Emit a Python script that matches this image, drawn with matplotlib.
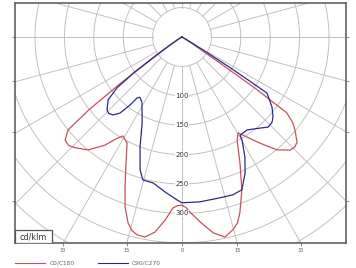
import numpy as np
import matplotlib
matplotlib.use("Agg")
import matplotlib.pyplot as plt
from matplotlib.patches import Rectangle

# ---- data: gamma (deg from nadir) and intensity (cd/klm) ----
c0_gamma = [0, 1.3, 2.6, 5.6, 9.0, 12.1, 14.8, 16.6, 18.2, 21.4, 24.7, 28.1, 30.3, 33, 36.3, 40.1, 43.7, 45.7, 47.6, 50.5, 52.3, 54.1, 55, 55.5, 57, 60, 90]
c0_int = [286, 290, 298, 316, 337, 348, 339, 330, 315, 279, 236, 199, 189, 203, 224, 251, 266, 268, 265, 249, 238, 220, 150, 80, 20, 5, 0]

c180_gamma = [0, 1.5, 3.0, 5.3, 7.9, 10.5, 12.8, 14.5, 16.2, 18.5, 20.8, 24.0, 27.4, 30.8, 32.4, 35.5, 39.8, 44.1, 46.3, 48.6, 50.8, 52, 53, 54, 56, 60, 90]
c180_int = [286, 287, 291, 313, 335, 346, 345, 340, 329, 305, 273, 234, 203, 196, 203, 226, 250, 262, 267, 265, 250, 200, 130, 60, 20, 5, 0]

c90_gamma = [0, 6.2, 13.3, 17.9, 21.4, 24.9, 27.7, 30.2, 30.6, 35, 40.6, 43.7, 46.5, 48.7, 52.1, 56.6, 57.5, 58.5, 60, 90]
c90_int = [282, 282, 281, 282, 279, 255, 230, 203, 194, 193, 204, 212, 211, 206, 194, 173, 100, 40, 10, 0]

c270_gamma = [0, 1.8, 6.3, 11.2, 15.3, 17.5, 20.9, 24.9, 31.6, 35, 36.4, 37.4, 39.2, 41.5, 43.8, 45.8, 49.6, 52, 53.5, 55, 57, 60, 90]
c270_int = [282, 277, 265, 253, 252, 237, 200, 161, 130, 125, 129, 146, 167, 177, 180, 178, 165, 140, 100, 50, 20, 5, 0]

ring_values = [100, 150, 200, 250, 300]
bottom_labels = ["30", "15", "0", "15", "30"]
bottom_angles = [-30, -15, 0, 15, 30]
series_names = ["C0/C180", "C90/C270"]
unit_label = "cd/klm"


def to_xy(g_left, i_left, g_right, i_right):
    gl = np.radians(np.array(g_left, float))
    il = np.array(i_left, float)
    gr = np.radians(np.array(g_right, float))
    ir = np.array(i_right, float)
    xl = -il * np.sin(gl)
    yl = -il * np.cos(gl)
    xr = ir * np.sin(gr)
    yr = -ir * np.cos(gr)
    x = np.concatenate([xl[::-1], xr])
    y = np.concatenate([yl[::-1], yr])
    return x, y


W, H = 356, 268
fig = plt.figure(figsize=(W / 100, H / 100), dpi=100)
L, R, T, B = 15, 346, 3, 243
ax = fig.add_axes([L / W, 1 - B / H, (R - L) / W, (B - T) / H])
cx, cy, s = 182, 37, 0.588
ax.set_xlim((L - cx) / s, (R - cx) / s)
ax.set_ylim(-(B - cy) / s, (cy - T) / s)

grid_c = "#bdbdbd"
t = np.linspace(0, 2 * np.pi, 400)
for r in range(50, 700, 50):
    ax.plot(r * np.cos(t), r * np.sin(t), color=grid_c, lw=0.65, zorder=1)
for a in range(0, 360, 15):
    ar = np.radians(a)
    ax.plot([50 * np.cos(ar), 800 * np.cos(ar)], [50 * np.sin(ar), 800 * np.sin(ar)],
            color=grid_c, lw=0.65, zorder=1)

red = "#c8505e"
blue = "#2b2b86"
xr_, yr_ = to_xy(c180_gamma, c180_int, c0_gamma, c0_int)
xb_, yb_ = to_xy(c270_gamma, c270_int, c90_gamma, c90_int)
ax.plot(xr_, yr_, color=red, lw=0.9, zorder=3, solid_joinstyle="round")
ax.plot(xb_, yb_, color=blue, lw=0.9, zorder=4, solid_joinstyle="round")

for v in ring_values:
    ax.text(0, -v, str(v), ha="center", va="center", fontsize=5, color="#333333", zorder=5,
            bbox=dict(facecolor="white", edgecolor="none", pad=0.2))

# unit box
ax.add_patch(Rectangle((0, 0), 37 / (R - L), 13 / (B - T), transform=ax.transAxes,
                       facecolor="white", edgecolor="#555555", lw=0.9, zorder=6))
ax.text(18.5 / (R - L), 6.5 / (B - T), unit_label, transform=ax.transAxes, ha="center",
        va="center", fontsize=5.8, color="#333333", zorder=7)

# ticks
yb = -(B - cy) / s
ax.set_xticks([-yb * -np.tan(np.radians(a)) for a in bottom_angles])
ax.set_xticklabels(bottom_labels)
ax.tick_params(axis="x", length=2, width=0.6, color="#777777", labelsize=3.5, labelcolor="#555555", pad=1.5)
xe = (R - cx) / s
side_ticks = [xe / np.tan(np.radians(a)) for a in [90, 75, 60, 45]]
ax.set_yticks([-v for v in side_ticks])
ax.set_yticklabels([])
ax.tick_params(axis="y", length=2, width=0.6, color="#777777", left=True, right=True)
for sp in ax.spines.values():
    sp.set_color("#555555")
    sp.set_linewidth(1.1)

# legend
fig.add_artist(plt.Line2D([15 / W, 45 / W], [1 - 263 / H] * 2, color=red, lw=0.8))
fig.text(50 / W, 1 - 263 / H, series_names[0], fontsize=4.2, color="#666666", va="center")
fig.add_artist(plt.Line2D([98 / W, 128 / W], [1 - 263 / H] * 2, color=blue, lw=0.8))
fig.text(132 / W, 1 - 263 / H, series_names[1], fontsize=4.2, color="#666666", va="center")

fig.savefig("out.png", dpi=100)
